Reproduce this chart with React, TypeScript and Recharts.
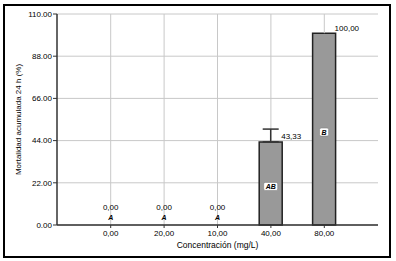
import {
    ComposedChart,
    Bar,
    Line,
    XAxis,
    YAxis,
    CartesianGrid,
    ErrorBar,
    LabelList,
    Label,
    ReferenceLine,
} from "recharts";

const concentrations = ["0,00", "20,00", "10,00", "40,00", "80,00"];
const mortality = [0, 0, 0, 43.33, 100];
const errorUp = [null, null, null, 6.67, null];
const groupLetters = ["A", "A", "A", "AB", "B"];
const yTicks = [0, 22, 44, 66, 88, 110];

const data = concentrations.map((conc, i) => ({
    conc,
    mortality: mortality[i],
    err: errorUp[i] == null ? null : [0, errorUp[i]],
}));

const FONT = "'Liberation Sans', Arial, sans-serif";
const BAR_W = 23;
const X_PAD = 27;
const GRID = "#c8c8c8";
const Y_MAX = yTicks[yTicks.length - 1];

const fmtComma = (v: number) => v.toFixed(2).replace(".", ",");

const letterFor = (index: any, value: number) =>
    groupLetters[index] ?? groupLetters[mortality.indexOf(value)] ?? "";

// value + group letter for bars that have height
function BarLabel(props: any) {
    const { x, y, width, height, value } = props;
    if (!value) return null;
    const letter = letterFor(undefined, value);
    const cx = x + width / 2;
    const my = y + height / 2 + 3;
    const boxW = letter.length * 5 + 4;
    return (
        <g>
            <text x={x + width - 1} y={y - 5} textAnchor="start" dominantBaseline="central" fontSize={8} fontFamily={FONT} fill="#000">
                {fmtComma(value)}
            </text>
            <rect x={cx - boxW / 2} y={my - 4} width={boxW} height={8} rx={1.5} fill="#fff" stroke="#777" strokeWidth={0.5} />
            <text x={cx} y={my} textAnchor="middle" dominantBaseline="central" fontSize={7} fontStyle="italic" fontWeight="bold" fontFamily={FONT} fill="#000">
                {letter}
            </text>
        </g>
    );
}

// zero bars draw nothing, so their labels hang off an invisible line
function ZeroLabel(props: any) {
    const { x, y, value, index } = props;
    if (value !== 0) return null;
    return (
        <g>
            <text x={x} y={y - 18} textAnchor="middle" dominantBaseline="central" fontSize={8} fontFamily={FONT} fill="#000">
                {fmtComma(value)}
            </text>
            <text x={x} y={y - 8} textAnchor="middle" dominantBaseline="central" fontSize={7} fontStyle="italic" fontWeight="bold" fontFamily={FONT} fill="#000">
                {letterFor(index, value)}
            </text>
        </g>
    );
}

function YTitle(props: any) {
    const { viewBox } = props;
    const cx = viewBox.x + 11;
    const cy = viewBox.y + viewBox.height / 2;
    return (
        <text x={cx} y={cy} transform={`rotate(-90 ${cx} ${cy})`} textAnchor="middle" dominantBaseline="central" fontSize={8} fontFamily={FONT} fill="#000">
            Mortalidad acumulada 24 h (%)
        </text>
    );
}

function XTitle(props: any) {
    const { viewBox } = props;
    return (
        <text x={viewBox.x + viewBox.width / 2} y={viewBox.y + 20} textAnchor="middle" dominantBaseline="central" fontSize={8.5} fontFamily={FONT} fill="#000">
            Concentración (mg/L)
        </text>
    );
}

export default function App() {
    return (
        <div>
            <div
                style={{
                    position: "absolute",
                    left: 3,
                    top: 4,
                    width: 388,
                    height: 254,
                    border: "2px solid #000",
                    boxSizing: "border-box",
                }}
            />
            <div style={{ position: "absolute", left: 0, top: 0 }}>
                <ComposedChart
                    width={396}
                    height={261}
                    data={data}
                    margin={{ top: 14, right: 18, left: 7, bottom: 6 }}
                >
                    <CartesianGrid stroke={GRID} strokeWidth={1} fill="none" vertical={false} />
                    {/* vertical grid through each category, running from the bar top up */}
                    {concentrations.map((c, i) => (
                        <ReferenceLine
                            key={c}
                            segment={[
                                { x: c, y: mortality[i] },
                                { x: c, y: Y_MAX },
                            ]}
                            stroke={GRID}
                            strokeWidth={1}
                        />
                    ))}
                    <XAxis
                        dataKey="conc"
                        height={30}
                        padding={{ left: X_PAD, right: X_PAD }}
                        tick={{ fontSize: 8, fill: "#000", fontFamily: FONT }}
                        tickSize={3}
                        tickMargin={2}
                        axisLine={{ stroke: "#333", strokeWidth: 1.5 }}
                        tickLine={{ stroke: "#333" }}
                    >
                        <Label content={<XTitle />} />
                    </XAxis>
                    <YAxis
                        width={50}
                        domain={[0, Y_MAX]}
                        ticks={yTicks}
                        tickFormatter={(v) => v.toFixed(2)}
                        tick={{ fontSize: 8, fill: "#000", fontFamily: FONT }}
                        tickSize={4}
                        tickMargin={1}
                        axisLine={{ stroke: "#333", strokeWidth: 1.5 }}
                        tickLine={{ stroke: "#333" }}
                    >
                        <Label content={<YTitle />} />
                    </YAxis>
                    {/* right edge of the grid frame */}
                    <YAxis
                        yAxisId="edge"
                        orientation="right"
                        width={0}
                        domain={[0, Y_MAX]}
                        tick={false}
                        tickLine={false}
                        axisLine={{ stroke: GRID }}
                    />
                    <Bar
                        dataKey="mortality"
                        barSize={BAR_W}
                        fill="#999999"
                        stroke="#222"
                        strokeWidth={1.5}
                        isAnimationActive={false}
                    >
                        <ErrorBar dataKey="err" direction="y" width={8} stroke="#333" strokeWidth={1.5} />
                        <LabelList dataKey="mortality" content={<BarLabel />} />
                    </Bar>
                    <Line
                        dataKey="mortality"
                        stroke="none"
                        dot={false}
                        activeDot={false}
                        isAnimationActive={false}
                    >
                        <LabelList dataKey="mortality" content={<ZeroLabel />} />
                    </Line>
                </ComposedChart>
            </div>
        </div>
    );
}
